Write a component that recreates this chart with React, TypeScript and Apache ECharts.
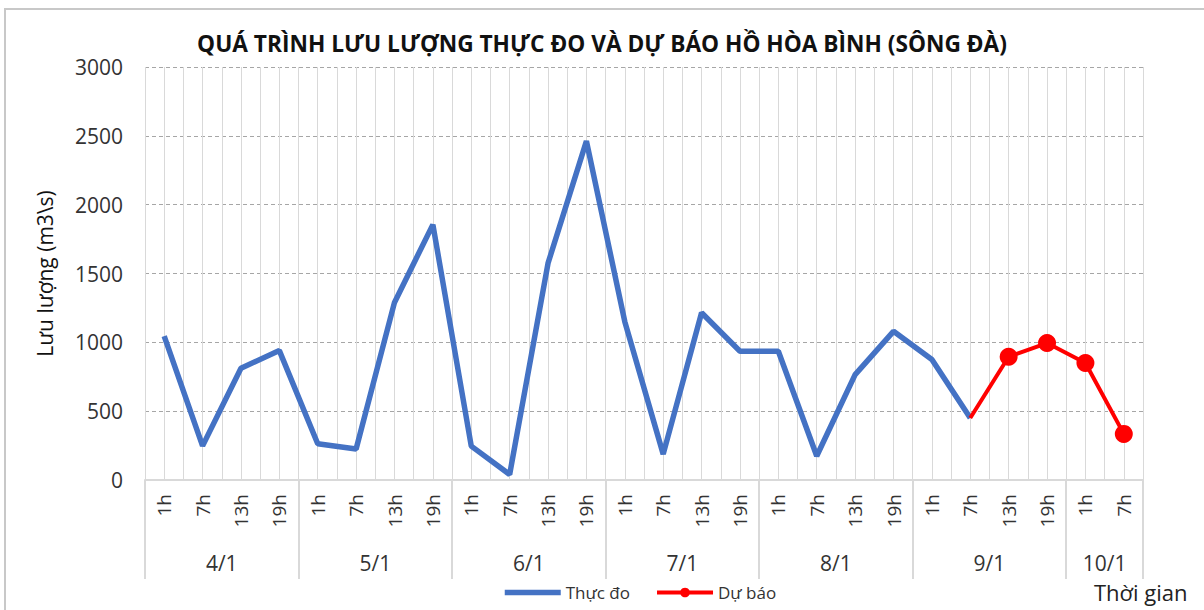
import React, { useEffect, useRef } from 'react';
import * as echarts from 'echarts';

const TITLE = 'QUÁ TRÌNH LƯU LƯỢNG THỰC ĐO VÀ DỰ BÁO HỒ HÒA BÌNH (SÔNG ĐÀ)';
const dates = ['4/1', '5/1', '6/1', '7/1', '8/1', '9/1', '10/1'];
const hoursPerDate = [
  ['1h', '7h', '13h', '19h'],
  ['1h', '7h', '13h', '19h'],
  ['1h', '7h', '13h', '19h'],
  ['1h', '7h', '13h', '19h'],
  ['1h', '7h', '13h', '19h'],
  ['1h', '7h', '13h', '19h'],
  ['1h', '7h'],
];
// Thực đo (measured), from 4/1 1h to 9/1 7h
const measured = [
  1045, 248, 812, 940,
  263, 225, 1290, 1855,
  246, 40, 1575, 2462,
  1150, 188, 1215, 935,
  935, 174, 765, 1080,
  875, 450,
];
// Dự báo (forecast), from 9/1 7h to 10/1 7h
const forecast = [450, 895, 995, 850, 335];
const yMin = 0;
const yMax = 3000;
const yStep = 500;

const FONT = '"Open Sans", "Noto Sans", sans-serif';

export default function App() {
  const ref = useRef<HTMLDivElement>(null);
  useEffect(() => {
    if (!ref.current) return;
    const chart = echarts.init(ref.current, undefined, { renderer: 'svg' });
    const hours = hoursPerDate.flat();
    const n = hours.length;
    const bounds: number[] = [0];
    const centers: number[] = [];
    let acc = 0;
    hoursPerDate.forEach((h) => {
      centers.push(acc + h.length / 2);
      acc += h.length;
      bounds.push(acc);
    });
    const forecastStart = measured.length - 1;
    const redData: any[] = new Array(n).fill(null);
    forecast.forEach((v, i) => {
      redData[forecastStart + i] = i === 0 ? { value: v, symbol: 'none' } : v;
    });

    chart.setOption({
      animation: false,
      textStyle: { fontFamily: FONT },
      title: {
        text: TITLE,
        left: 'center',
        top: 27,
        textStyle: { fontFamily: FONT, fontSize: 22.7, fontWeight: 'bold', color: '#111' },
      },
      legend: {
        left: 497,
        top: 579,
        itemWidth: 56,
        itemHeight: 12,
        itemGap: 25,
        textStyle: { fontFamily: FONT, fontSize: 17, color: '#333' },
        data: [
          { name: 'Thực đo', itemStyle: { opacity: 0 }, lineStyle: { width: 5.5, color: '#4472C4' } },
          { name: 'Dự báo', lineStyle: { width: 4, color: '#FF0000' } },
        ],
      },
      grid: { left: 145, right: 61, top: 67, bottom: 130, containLabel: false },
      xAxis: [
        {
          type: 'category',
          data: hours,
          boundaryGap: true,
          position: 'bottom',
          axisLine: { show: false },
          axisTick: { show: false },
          splitLine: { show: false },
          axisLabel: {
            interval: 0,
            rotate: 90,
            margin: 14,
            fontSize: 19,
            color: '#333',
            fontFamily: FONT,
          },
        },
        {
          type: 'value',
          min: 0,
          max: n,
          position: 'bottom',
          axisLine: { show: true, lineStyle: { color: '#d9d9d9', width: 2 } },
          axisTick: {
            show: true,
            customValues: bounds,
            length: 99,
            lineStyle: { color: '#d9d9d9', width: 2 },
          },
          axisLabel: {
            customValues: centers,
            margin: 72,
            fontSize: 21,
            color: '#333',
            fontFamily: FONT,
            formatter: (v: number) => {
              const idx = centers.findIndex((c) => Math.abs(c - v) < 1e-6);
              return idx >= 0 ? dates[idx] : '';
            },
          },
          splitLine: { show: false },
        },
        {
          type: 'value',
          min: 0,
          max: n * 2,
          interval: 1,
          show: true,
          position: 'top',
          axisLine: { show: false },
          axisTick: { show: false },
          axisLabel: { show: false },
          splitLine: { show: true, lineStyle: { color: '#d9d9d9', width: 1 } },
        },
      ],
      yAxis: {
        type: 'value',
        min: yMin,
        max: yMax,
        interval: yStep,
        name: 'Lưu lượng (m3\\s)',
        nameLocation: 'middle',
        nameGap: 90,
        nameTextStyle: { fontFamily: FONT, fontSize: 21, color: '#111' },
        axisLine: { show: false },
        axisTick: { show: false },
        axisLabel: {
          margin: 22,
          fontSize: 21,
          color: '#333',
          fontFamily: FONT,
          formatter: (v: number) => String(v),
        },
        splitLine: { show: true, lineStyle: { color: '#a6a6a6', type: [4, 3], width: 1 } },
      },
      series: [
        {
          name: 'Thực đo',
          type: 'line',
          xAxisIndex: 0,
          data: measured,
          symbol: 'none',
          lineStyle: { color: '#4472C4', width: 5.5 },
          itemStyle: { color: '#4472C4' },
          z: 3,
        },
        {
          name: 'Dự báo',
          type: 'line',
          xAxisIndex: 0,
          data: redData,
          symbol: 'circle',
          symbolSize: 18,
          lineStyle: { color: '#FF0000', width: 4 },
          itemStyle: { color: '#FF0000' },
          z: 4,
        },
      ],
      graphic: [
        {
          type: 'rect',
          silent: true,
          z: -10,
          shape: { x: 5, y: 9, width: 1300, height: 700 },
          style: { fill: 'none', stroke: '#c8c8c8', lineWidth: 2 },
        },
        {
          type: 'text',
          left: 1094,
          top: 581,
          style: { text: 'Thời gian', fontFamily: FONT, fontSize: 22, fill: '#222' },
        },
      ],
    });
    return () => chart.dispose();
  }, []);
  return <div ref={ref} style={{ position: 'absolute', left: 0, top: 0, width: 1204, height: 610 }} />;
}
